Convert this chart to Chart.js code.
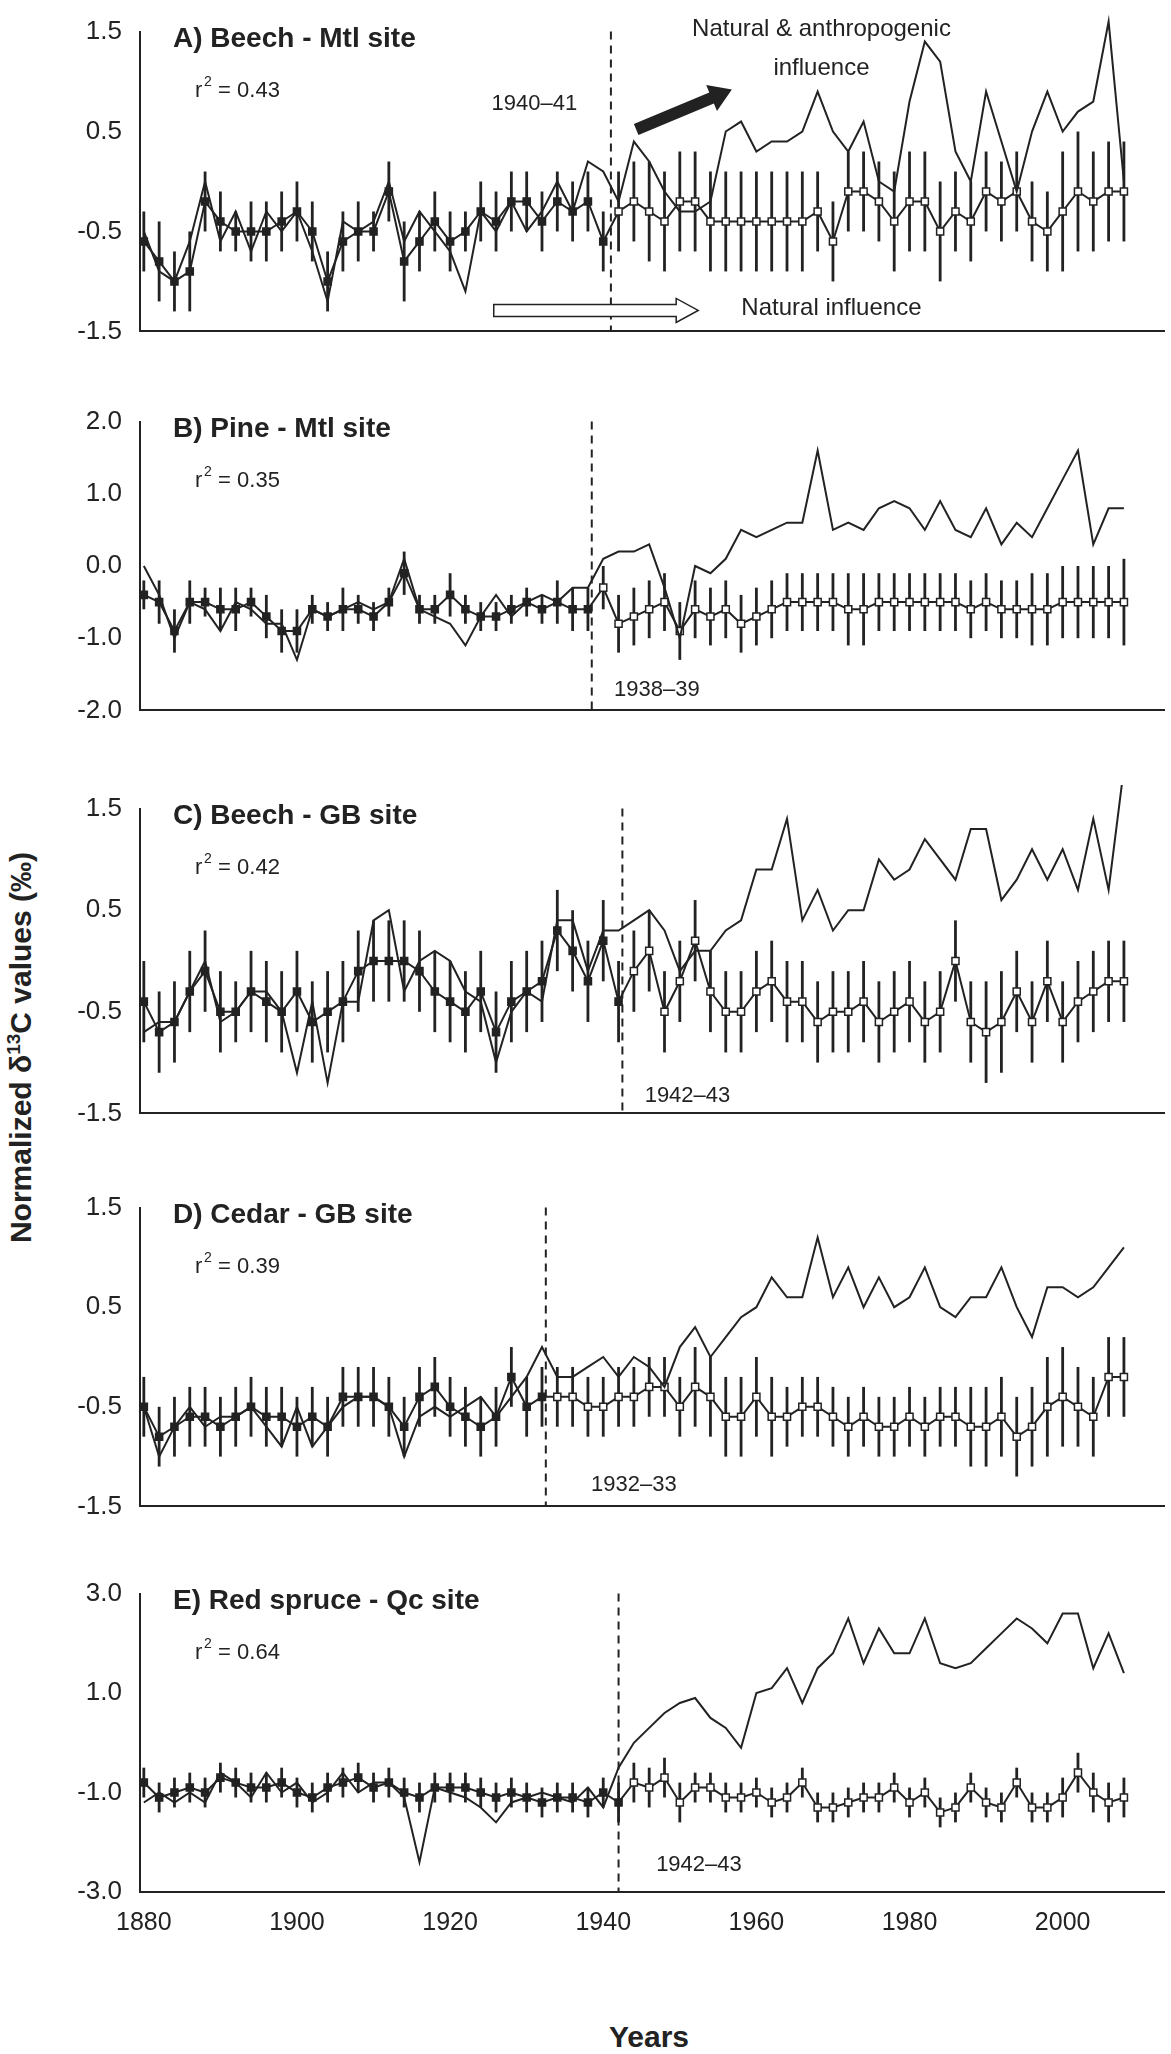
<!DOCTYPE html>
<html><head><meta charset="utf-8">
<script src="https://cdn.jsdelivr.net/npm/chart.js@4.4.1/dist/chart.umd.min.js"></script>
<style>
body{margin:0;background:#fff;width:1171px;height:2054px;position:relative;overflow:hidden;font-family:"Liberation Sans",Arial,sans-serif}
.p{position:absolute;left:0;width:1171px}
#yt{position:absolute;left:-380px;top:1030px;width:800px;text-align:center;transform:rotate(-90deg);font-weight:bold;font-size:30px;color:#222}
#xt{position:absolute;left:549px;top:2020px;width:200px;text-align:center;font-weight:bold;font-size:30px;color:#222}
</style></head><body>
<div id="yt">Normalized δ<sup style="font-size:19px">13</sup>C values (‰)</div>
<div id="xt">Years</div>
<script>
const years=[];for(let y=1880;y<=2008;y+=2)years.push(y);

const obsA=[-0.5,-0.9,-1.0,-0.6,0.0,-0.6,-0.3,-0.7,-0.3,-0.5,-0.3,-0.7,-1.2,-0.4,-0.5,-0.4,0.0,-0.6,-0.3,-0.5,-0.7,-1.1,-0.3,-0.5,-0.2,-0.5,-0.3,0.0,-0.3,0.2,0.1,-0.2,0.4,0.2,-0.1,-0.3,-0.3,-0.2,0.5,0.6,0.3,0.4,0.4,0.5,0.9,0.5,0.3,0.6,0.0,-0.1,0.8,1.4,1.2,0.3,0.0,0.9,0.4,-0.1,0.5,0.9,0.5,0.7,0.8,1.6,0.0];
const modA=[-0.6,-0.8,-1.0,-0.9,-0.2,-0.4,-0.5,-0.5,-0.5,-0.4,-0.3,-0.5,-1.0,-0.6,-0.5,-0.5,-0.1,-0.8,-0.6,-0.4,-0.6,-0.5,-0.3,-0.4,-0.2,-0.2,-0.4,-0.2,-0.3,-0.2,-0.6,-0.3,-0.2,-0.3,-0.4,-0.2,-0.2,-0.4,-0.4,-0.4,-0.4,-0.4,-0.4,-0.4,-0.3,-0.6,-0.1,-0.1,-0.2,-0.4,-0.2,-0.2,-0.5,-0.3,-0.4,-0.1,-0.2,-0.1,-0.4,-0.5,-0.3,-0.1,-0.2,-0.1,-0.1];
const errA=[0.3,0.4,0.3,0.4,0.3,0.3,0.2,0.3,0.3,0.3,0.3,0.3,0.3,0.3,0.3,0.2,0.3,0.4,0.3,0.3,0.3,0.2,0.3,0.3,0.3,0.3,0.3,0.3,0.3,0.3,0.3,0.4,0.4,0.5,0.5,0.5,0.5,0.5,0.5,0.5,0.5,0.5,0.5,0.5,0.4,0.4,0.4,0.4,0.4,0.5,0.5,0.5,0.5,0.4,0.4,0.4,0.4,0.4,0.4,0.4,0.6,0.6,0.5,0.5,0.5];

const obsB=[0.0,-0.4,-1.0,-0.5,-0.6,-0.9,-0.5,-0.6,-0.8,-0.8,-1.3,-0.6,-0.7,-0.6,-0.5,-0.6,-0.5,0.1,-0.6,-0.7,-0.8,-1.1,-0.7,-0.4,-0.7,-0.5,-0.4,-0.5,-0.3,-0.3,0.1,0.2,0.2,0.3,-0.3,-1.0,0.0,-0.1,0.1,0.5,0.4,0.5,0.6,0.6,1.6,0.5,0.6,0.5,0.8,0.9,0.8,0.5,0.9,0.5,0.4,0.8,0.3,0.6,0.4,0.8,1.2,1.6,0.3,0.8,0.8];
const modB=[-0.4,-0.5,-0.9,-0.5,-0.5,-0.6,-0.6,-0.5,-0.7,-0.9,-0.9,-0.6,-0.7,-0.6,-0.6,-0.7,-0.5,-0.1,-0.6,-0.6,-0.4,-0.6,-0.7,-0.7,-0.6,-0.5,-0.6,-0.5,-0.6,-0.6,-0.3,-0.8,-0.7,-0.6,-0.5,-0.9,-0.6,-0.7,-0.6,-0.8,-0.7,-0.6,-0.5,-0.5,-0.5,-0.5,-0.6,-0.6,-0.5,-0.5,-0.5,-0.5,-0.5,-0.5,-0.6,-0.5,-0.6,-0.6,-0.6,-0.6,-0.5,-0.5,-0.5,-0.5,-0.5];
const errB=[0.2,0.3,0.3,0.3,0.2,0.3,0.3,0.2,0.3,0.3,0.3,0.2,0.2,0.3,0.2,0.2,0.2,0.3,0.2,0.2,0.3,0.2,0.2,0.2,0.2,0.2,0.2,0.3,0.3,0.3,0.3,0.4,0.4,0.4,0.4,0.4,0.4,0.4,0.4,0.4,0.4,0.4,0.4,0.4,0.4,0.4,0.5,0.5,0.4,0.4,0.4,0.4,0.4,0.4,0.4,0.4,0.4,0.4,0.5,0.5,0.5,0.5,0.5,0.5,0.6];

const obsC=[-0.7,-0.6,-0.6,-0.3,0.0,-0.6,-0.5,-0.3,-0.3,-0.5,-1.1,-0.4,-1.2,-0.4,-0.4,0.4,0.5,-0.3,0.0,0.1,0.0,-0.3,-0.4,-1.0,-0.5,-0.3,-0.4,0.4,0.4,-0.1,0.3,0.3,0.4,0.5,0.3,-0.1,0.1,0.1,0.3,0.4,0.9,0.9,1.4,0.4,0.7,0.3,0.5,0.5,1.0,0.8,0.9,1.2,1.0,0.8,1.3,1.3,0.6,0.8,1.1,0.8,1.1,0.7,1.4,0.7,1.9];
const modC=[-0.4,-0.7,-0.6,-0.3,-0.1,-0.5,-0.5,-0.3,-0.4,-0.5,-0.3,-0.6,-0.5,-0.4,-0.1,0.0,0.0,0.0,-0.1,-0.3,-0.4,-0.5,-0.3,-0.7,-0.4,-0.3,-0.2,0.3,0.1,-0.2,0.2,-0.4,-0.1,0.1,-0.5,-0.2,0.2,-0.3,-0.5,-0.5,-0.3,-0.2,-0.4,-0.4,-0.6,-0.5,-0.5,-0.4,-0.6,-0.5,-0.4,-0.6,-0.5,0.0,-0.6,-0.7,-0.6,-0.3,-0.6,-0.2,-0.6,-0.4,-0.3,-0.2,-0.2];
const errC=[0.4,0.4,0.4,0.4,0.4,0.4,0.3,0.4,0.4,0.4,0.4,0.4,0.4,0.4,0.4,0.4,0.4,0.4,0.4,0.4,0.4,0.4,0.4,0.4,0.4,0.4,0.4,0.4,0.4,0.4,0.4,0.4,0.4,0.4,0.4,0.4,0.4,0.4,0.4,0.4,0.4,0.4,0.4,0.4,0.4,0.4,0.4,0.4,0.4,0.4,0.4,0.4,0.4,0.4,0.4,0.5,0.5,0.4,0.4,0.4,0.4,0.4,0.4,0.4,0.4];

const obsD=[-0.5,-1.0,-0.7,-0.5,-0.7,-0.6,-0.6,-0.5,-0.7,-0.9,-0.5,-0.9,-0.7,-0.5,-0.4,-0.4,-0.5,-1.0,-0.6,-0.5,-0.6,-0.5,-0.4,-0.6,-0.4,-0.2,0.1,-0.2,-0.2,-0.1,0.0,-0.2,0.0,-0.1,-0.3,0.1,0.3,0.0,0.2,0.4,0.5,0.8,0.6,0.6,1.2,0.6,0.9,0.5,0.8,0.5,0.6,0.9,0.5,0.4,0.6,0.6,0.9,0.5,0.2,0.7,0.7,0.6,0.7,0.9,1.1];
const modD=[-0.5,-0.8,-0.7,-0.6,-0.6,-0.7,-0.6,-0.5,-0.6,-0.6,-0.7,-0.6,-0.7,-0.4,-0.4,-0.4,-0.5,-0.7,-0.4,-0.3,-0.5,-0.6,-0.7,-0.6,-0.2,-0.5,-0.4,-0.4,-0.4,-0.5,-0.5,-0.4,-0.4,-0.3,-0.3,-0.5,-0.3,-0.4,-0.6,-0.6,-0.4,-0.6,-0.6,-0.5,-0.5,-0.6,-0.7,-0.6,-0.7,-0.7,-0.6,-0.7,-0.6,-0.6,-0.7,-0.7,-0.6,-0.8,-0.7,-0.5,-0.4,-0.5,-0.6,-0.2,-0.2];
const errD=[0.3,0.3,0.3,0.3,0.3,0.3,0.3,0.3,0.3,0.3,0.3,0.3,0.3,0.3,0.3,0.3,0.3,0.3,0.3,0.3,0.3,0.3,0.3,0.3,0.3,0.3,0.3,0.3,0.3,0.3,0.3,0.3,0.3,0.3,0.3,0.3,0.4,0.4,0.4,0.4,0.4,0.4,0.3,0.3,0.3,0.3,0.3,0.3,0.3,0.3,0.3,0.3,0.3,0.3,0.4,0.4,0.4,0.4,0.4,0.5,0.5,0.4,0.4,0.4,0.4];

const obsE=[-1.2,-1.0,-1.2,-1.0,-1.2,-0.6,-0.8,-1.1,-0.6,-1.0,-0.8,-1.2,-1.0,-0.6,-1.0,-0.8,-0.8,-1.1,-2.4,-0.9,-1.0,-1.1,-1.3,-1.6,-1.2,-1.1,-1.0,-1.1,-1.2,-0.9,-1.3,-0.5,0.0,0.3,0.6,0.8,0.9,0.5,0.3,-0.1,1.0,1.1,1.5,0.8,1.5,1.8,2.5,1.6,2.3,1.8,1.8,2.5,1.6,1.5,1.6,1.9,2.2,2.5,2.3,2.0,2.6,2.6,1.5,2.2,1.4];
const modE=[-0.8,-1.1,-1.0,-0.9,-1.0,-0.7,-0.8,-0.9,-0.9,-0.8,-1.0,-1.1,-0.9,-0.8,-0.7,-0.9,-0.8,-1.0,-1.1,-0.9,-0.9,-0.9,-1.0,-1.1,-1.0,-1.1,-1.2,-1.1,-1.1,-1.2,-1.0,-1.2,-0.8,-0.9,-0.7,-1.2,-0.9,-0.9,-1.1,-1.1,-1.0,-1.2,-1.1,-0.8,-1.3,-1.3,-1.2,-1.1,-1.1,-0.9,-1.2,-1.0,-1.4,-1.3,-0.9,-1.2,-1.3,-0.8,-1.3,-1.3,-1.1,-0.6,-1.0,-1.2,-1.1];
const errE=[0.3,0.3,0.3,0.3,0.3,0.3,0.3,0.3,0.3,0.3,0.3,0.3,0.3,0.3,0.3,0.3,0.3,0.3,0.3,0.3,0.3,0.3,0.3,0.3,0.3,0.3,0.3,0.3,0.3,0.3,0.3,0.4,0.4,0.4,0.4,0.4,0.3,0.3,0.3,0.3,0.3,0.3,0.3,0.3,0.3,0.3,0.3,0.3,0.3,0.3,0.3,0.3,0.3,0.3,0.3,0.3,0.3,0.3,0.3,0.3,0.4,0.4,0.4,0.4,0.4];

const xTicks=[1880,1900,1920,1940,1960,1980,2000];

const panels=[
 {obs:obsA,mod:modA,err:errA,brk:1941,lim:[-1.5,1.5],step:1,dec:1,title:'A) Beech - Mtl site',r2:'0.43',top:24,h:319,lab:'1940–41',labPos:[1931,0.78]},
 {obs:obsB,mod:modB,err:errB,brk:1938.5,lim:[-2,2],step:1,dec:1,title:'B) Pine - Mtl site',r2:'0.35',top:414,h:308,lab:'1938–39',labPos:[1947,-1.72]},
 {obs:obsC,mod:modC,err:errC,brk:1942.5,lim:[-1.5,1.5],step:1,dec:1,title:'C) Beech - GB site',r2:'0.42',top:801,h:324,lab:'1942–43',labPos:[1951,-1.33]},
 {obs:obsD,mod:modD,err:errD,brk:1932.5,lim:[-1.5,1.5],step:1,dec:1,title:'D) Cedar - GB site',r2:'0.39',top:1200,h:318,lab:'1932–33',labPos:[1944,-1.28]},
 {obs:obsE,mod:modE,err:errE,brk:1942,lim:[-3,3],step:2,dec:1,title:'E) Red spruce - Qc site',r2:'0.64',top:1586,h:306,lab:'1942–43',labPos:[1952.5,-2.45],last:true}
];
const FONT='"Liberation Sans", Arial, sans-serif';

const annot={id:'annot',
 beforeDatasetsDraw(ch){
  const p=ch.options.plugins.annot.p,x=ch.scales.x,y=ch.scales.y,c=ch.ctx;
  c.save();c.strokeStyle='#222';c.lineWidth=2.8;
  p.mod.forEach((v,i)=>{const px=x.getPixelForValue(years[i]);c.beginPath();c.moveTo(px,y.getPixelForValue(v-p.err[i]));c.lineTo(px,y.getPixelForValue(v+p.err[i]));c.stroke();});
  c.lineWidth=2;c.setLineDash([8,6]);const bx=x.getPixelForValue(p.brk);
  c.beginPath();c.moveTo(bx,ch.chartArea.top);c.lineTo(bx,ch.chartArea.bottom);c.stroke();c.restore();
 },
 afterDraw(ch){
  const p=ch.options.plugins.annot.p,x=ch.scales.x,y=ch.scales.y,c=ch.ctx,a=ch.chartArea;
  c.save();c.fillStyle='#222';c.textBaseline='top';
  c.font='bold 28px '+FONT;c.fillText(p.title,a.left+33,a.top-6);
  c.font='22px '+FONT;c.fillText('r',a.left+55,a.top+48);
  c.font='14px '+FONT;c.fillText('2',a.left+64,a.top+44);
  c.font='22px '+FONT;c.fillText(' = '+p.r2,a.left+72,a.top+48);
  c.textBaseline='middle';c.textAlign='center';
  c.fillText(p.lab,x.getPixelForValue(p.labPos[0]),y.getPixelForValue(p.labPos[1]));
  if(p.title.startsWith('A')){
   c.font='24px '+FONT;
   c.fillText('Natural & anthropogenic',x.getPixelForValue(1968.5),y.getPixelForValue(1.52));
   c.fillText('influence',x.getPixelForValue(1968.5),y.getPixelForValue(1.13));
   c.fillText('Natural influence',x.getPixelForValue(1969.8),y.getPixelForValue(-1.27));
   const x1=x.getPixelForValue(1944.3),y1=y.getPixelForValue(0.52),x2=x.getPixelForValue(1956.8),y2=y.getPixelForValue(0.92);
   const ang=Math.atan2(y2-y1,x2-x1);
   c.translate(x1,y1);c.rotate(ang);const L=Math.hypot(x2-x1,y2-y1);
   c.beginPath();c.moveTo(0,-6);c.lineTo(L-22,-6);c.lineTo(L-22,-14);c.lineTo(L,0);c.lineTo(L-22,14);c.lineTo(L-22,6);c.lineTo(0,6);c.closePath();c.fill();
   c.setTransform(ch.currentDevicePixelRatio,0,0,ch.currentDevicePixelRatio,0,0);
   const ox1=x.getPixelForValue(1925.7),ox2=x.getPixelForValue(1952.4),oy=y.getPixelForValue(-1.29);
   c.beginPath();c.moveTo(ox1,oy-6);c.lineTo(ox2-22,oy-6);c.lineTo(ox2-22,oy-12);c.lineTo(ox2,oy);c.lineTo(ox2-22,oy+12);c.lineTo(ox2-22,oy+6);c.lineTo(ox1,oy+6);c.closePath();
   c.fillStyle='#fff';c.fill();c.strokeStyle='#222';c.lineWidth=1.5;c.stroke();
  }
  c.restore();
 }};

panels.forEach(p=>{
 const xh=p.last?70:12, padT=16;
 const d=document.createElement('div');d.className='p';d.style.top=(p.top-padT)+'px';d.style.height=(padT+p.h+xh)+'px';
 const cv=document.createElement('canvas');d.appendChild(cv);document.body.appendChild(d);
 new Chart(cv,{type:'line',
  data:{datasets:[
   {data:years.map((yr,i)=>({x:yr,y:p.obs[i]})),borderColor:'#222',borderWidth:2,pointRadius:0,tension:0},
   {data:years.map((yr,i)=>({x:yr,y:p.mod[i]})),borderColor:'#222',borderWidth:2,pointStyle:'rect',pointRadius:5,pointBorderWidth:1.5,pointBorderColor:'#222',
    pointBackgroundColor:years.map(yr=>yr<=p.brk?'#222':'#fff'),tension:0}
  ]},
  options:{responsive:true,maintainAspectRatio:false,animation:false,clip:false,
   layout:{padding:{top:padT,right:0,left:0,bottom:0}},
   plugins:{legend:{display:false},tooltip:{enabled:false},annot:{p}},
   scales:{
    x:{type:'linear',min:1879.5,max:2013.3,grid:{display:false,drawTicks:true,tickLength:10,color:'#222',tickWidth:2},
      border:{color:'#222',width:2},
      afterBuildTicks(s){s.ticks=xTicks.map(v=>({value:v}));},
      ticks:{display:!!p.last,color:'#222',font:{size:25,family:FONT},padding:6,maxRotation:0,callback:v=>String(v)},
      afterFit(s){s.height=xh;}},
    y:{min:p.lim[0],max:p.lim[1],grid:{display:false,drawTicks:true,tickLength:10,color:'#222',tickWidth:2},
      border:{color:'#222',width:2},
      ticks:{stepSize:p.step,color:'#222',font:{size:26,family:FONT},padding:8,callback:v=>v.toFixed(p.dec)},
      afterFit(s){s.width=140;}}
   }},
  plugins:[annot]});
});
</script></body></html>
